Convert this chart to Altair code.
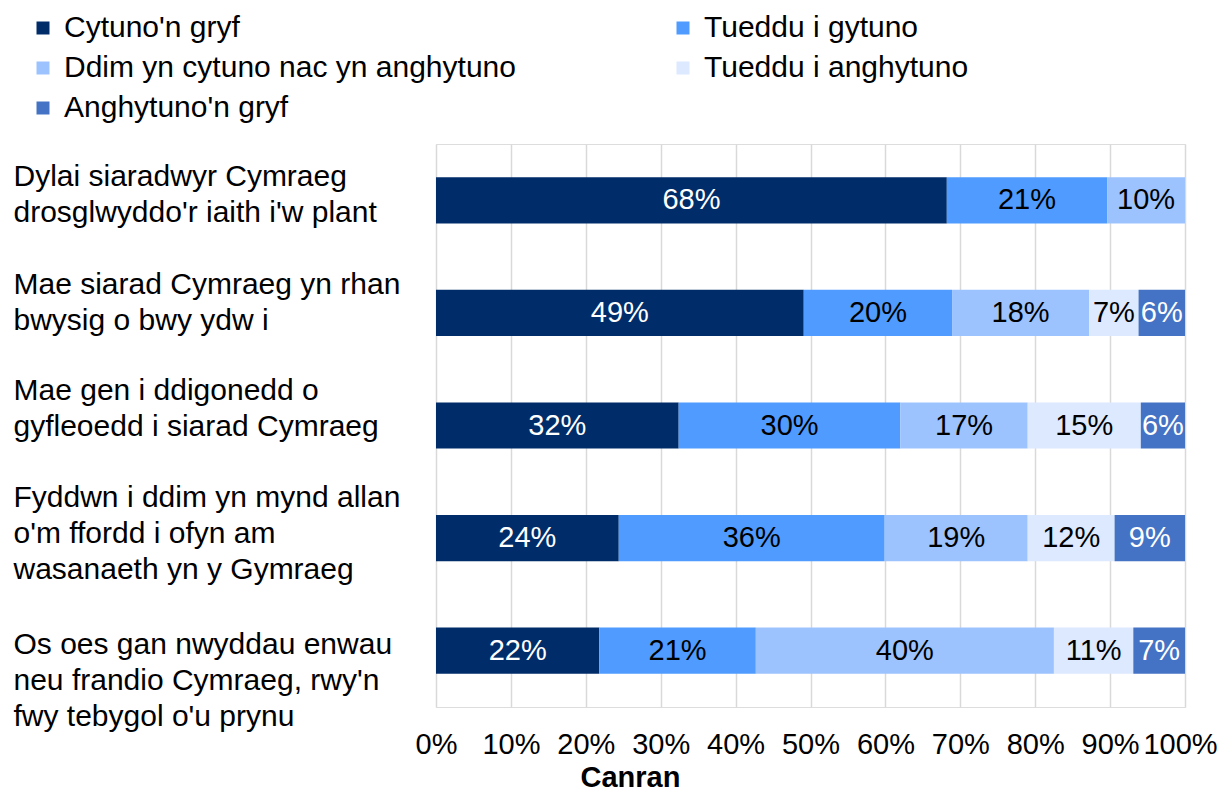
import altair as alt
import pandas as pd

questions = [
    "Dylai siaradwyr Cymraeg|drosglwyddo'r iaith i'w plant",
    "Mae siarad Cymraeg yn rhan|bwysig o bwy ydw i",
    "Mae gen i ddigonedd o|gyfleoedd i siarad Cymraeg",
    "Fyddwn i ddim yn mynd allan|o'm ffordd i ofyn am|wasanaeth yn y Gymraeg",
    "Os oes gan nwyddau enwau|neu frandio Cymraeg, rwy'n|fwy tebygol o'u prynu",
]
categories = [
    "Cytuno'n gryf",
    "Tueddu i gytuno",
    "Ddim yn cytuno nac yn anghytuno",
    "Tueddu i anghytuno",
    "Anghytuno'n gryf",
]
colors = ["#002D6A", "#4F9BFF", "#9DC3FF", "#DCE9FF", "#4472C4"]
text_colors = ["white", "black", "black", "black", "white"]
# legend fills column by column: this order gives the reference's row layout
legend_order = [0, 2, 4, 1, 3]

strongly_agree = [68.2, 49.1, 32.4, 24.4, 21.8]
tend_agree = [21.4, 19.8, 29.6, 35.5, 20.9]
neither = [10.4, 18.3, 17.0, 19.1, 39.8]
tend_disagree = [0.0, 6.6, 15.1, 11.6, 10.6]
strongly_disagree = [0.0, 6.2, 5.9, 9.4, 6.9]

series = [strongly_agree, tend_agree, neither, tend_disagree, strongly_disagree]

rows = []
for ci, (cat, vals) in enumerate(zip(categories, series)):
    for q, v in zip(questions, vals):
        if v > 0:
            rows.append({"question": q, "category": cat, "order": ci,
                         "value": v, "tcolor": text_colors[ci]})
df = pd.DataFrame(rows)

FONT = "Liberation Sans"

base = alt.Chart(df).transform_stack(
    stack="value", groupby=["question"],
    sort=[alt.SortField("order", order="ascending")],
    as_=["x0", "x1"],
).transform_calculate(
    mid="(datum.x0 + datum.x1) / 2",
    lbl="format(datum.value, '.0f') + '%'",
)

label_offsets = {
    "Dylai": -23,
    "Mae siarad": -28,
    "Mae gen": -35,
    "Fyddwn": -40,
    "Os oes": -6,
}
offset_cond = {
    "condition": [
        {"test": f"indexof(datum.value, '{k}') == 0", "value": v}
        for k, v in label_offsets.items()
    ],
    "value": 0,
}

y_enc = alt.Y(
    "question:N", sort=questions, title=None,
    scale=alt.Scale(paddingInner=0.59, paddingOuter=0.295),
    axis=alt.Axis(
        labelExpr="split(datum.label, '|')",
        labelAlign="left", labelBaseline="middle",
        labelPadding=423, ticks=False, domain=False,
        labelFont=FONT, labelFontSize=30, labelColor="black",
        labelLimit=600, labelLineHeight=36,
        labelOffset=offset_cond,
    ),
)

bars = base.mark_bar().encode(
    x=alt.X(
        "x0:Q", title="Canran",
        scale=alt.Scale(domain=[0, 100], nice=False),
        axis=alt.Axis(
            values=list(range(0, 101, 10)),
            labelExpr="datum.value + '%'",
            grid=True, gridColor="#d9d9d9", gridWidth=1.5,
            domain=False, ticks=False,
            labelFont=FONT, labelFontSize=29, labelColor="black", labelPadding=23,
            labelFlush=False,
            labelOffset={"condition": {"test": "datum.value == 100", "value": -5}, "value": 0},
            titleFont=FONT, titleFontSize=29, titleFontWeight="bold", titleColor="black",
            titleX=194, titleAlign="center", titlePadding=4,
            labelOverlap=False,
        ),
    ),
    x2="x1:Q",
    y=y_enc,
    color=alt.Color(
        "category:N",
        scale=alt.Scale(domain=[categories[i] for i in legend_order],
                        range=[colors[i] for i in legend_order]),
        legend=alt.Legend(
            title=None, orient="none", legendX=-408, legendY=-131,
            columns=2, columnPadding=152, rowPadding=10,
            symbolType="square", symbolSize=169, symbolStrokeWidth=0,
            labelFont=FONT, labelFontSize=30, labelColor="black",
            labelLimit=700, labelOffset=6,
        ),
    ),
)

labels = base.mark_text(font=FONT, fontSize=29, baseline="middle").encode(
    x="mid:Q",
    y=alt.Y("question:N", sort=questions),
    text="lbl:N",
    color=alt.Color("tcolor:N", scale=None),
)

chart = (bars + labels).properties(
    width=749, height=563,
    padding={"left": 5, "top": 5, "right": 0, "bottom": 0},
).configure_view(
    stroke=None
).configure(background="white")

chart.save("out.html", embed_options={"renderer": "svg", "actions": False})
